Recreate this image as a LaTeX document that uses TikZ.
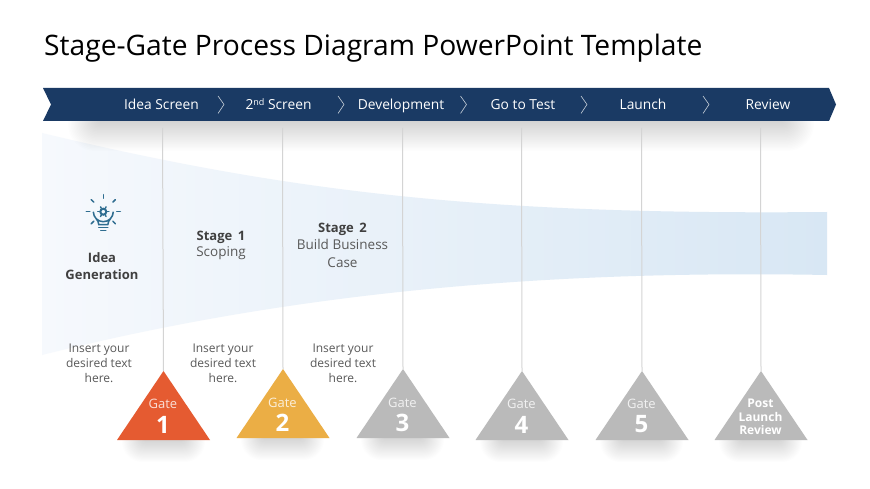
\documentclass[tikz,border=0pt]{standalone}
\usepackage{fontspec}
\setmainfont{Open Sans}
\usetikzlibrary{shapes.geometric,calc}
\definecolor{navy}{HTML}{1A3A64}
\definecolor{bodygray}{HTML}{595959}
\definecolor{headgray}{HTML}{404040}
\definecolor{gateorange}{HTML}{E55B31}
\definecolor{gateyellow}{HTML}{EBAE45}
\definecolor{gategray}{HTML}{BABABA}
\definecolor{stemgray}{HTML}{D4D4D4}
\definecolor{iconblue}{HTML}{2F6D90}
\tikzset{
  x=1pt,y=-1pt,
  stage/.style={text=white,font=\fontsize{13.8}{16}\selectfont,inner sep=0,anchor=base},
  chev/.style={draw=white!75!navy,line width=0.6pt},
  stem/.style={draw=stemgray,line width=1pt},
  tri/.style={isosceles triangle,isosceles triangle stretches,shape border rotate=90,
     minimum width=93pt,minimum height=69pt,inner sep=0,outer sep=0,anchor=apex,draw=none},
  gatelbl/.style={text=white,text opacity=.8,font=\fontsize{13}{15}\selectfont,inner sep=0},
  gatenum/.style={text=white,font=\fontsize{24}{26}\selectfont\bfseries,inner sep=0},
  body/.style={text=bodygray,font=\fontsize{12}{15}\selectfont,align=center,inner sep=0},
  heading/.style={text=headgray,font=\fontsize{13}{17}\selectfont\bfseries,align=center,inner sep=0},
  sub/.style={text=bodygray,font=\fontsize{13.5}{18}\selectfont,align=center,inner sep=0},
  icon/.style={draw=iconblue,line width=1.5pt,line cap=round},
}
% soft shadow, blurred box clipped at its top edge: x1 x2 y1 y2 blur opacity
\newcommand{\softshadow}[6]{%
  \begin{scope}
    \clip (#1-#5,#3) rectangle (#2+#5,#4+#5);
    \foreach \i in {0,1,...,23}{%
      \pgfmathsetmacro{\ins}{\i*2*#5/23}%
      \fill[black,opacity=#6,rounded corners={(2*#5-\ins)*0.8+1pt}]
        ({#1-#5+\ins},{#3-2*#5}) rectangle ({#2+#5-\ins},{#4+#5-\ins});
    }%
  \end{scope}%
}
\begin{document}
\begin{tikzpicture}
\useasboundingbox (0,0) rectangle (870,489);
\fill[white] (0,0) rectangle (870,489);
% funnel
\shade[left color={rgb,255:red,246;green,249;blue,253},right color={rgb,255:red,216;green,231;blue,244}]
  (42,133) .. controls (300,195) and (500,215) .. (827,212)
  -- (827,275) .. controls (560,270) and (300,290) .. (42,355) -- cycle;
% banner shadow
\softshadow{84}{798}{121}{135}{16}{0.0075}
% banner
\fill[navy] (43,88) -- (829,88) -- (836,104.5) -- (829,121) -- (43,121) -- (51,104.5) -- cycle;
\node[stage] (s1) at (161.5,109.5) {Idea Screen};
\node[stage] (s2) at (278.5,109.5) {2\raisebox{.55ex}{\fontsize{9}{9}\selectfont nd} Screen};
\node[stage] (s3) at (401,109.5) {Development};
\node[stage] (s4) at (523,109.5) {Go to Test};
\node[stage] (s5) at (643,109.5) {Launch};
\node[stage] (s6) at (768,109.5) {Review};
\foreach \x in {218,338,460.5,581,703}{
  \draw[chev] (\x,96) -- (\x+6,104.5) -- (\x,113.5);
}
% triangle shadows
\softshadow{134}{193}{440}{450}{12}{0.0075}
\softshadow{253}{312}{438}{448}{12}{0.0075}
\softshadow{373}{432}{438}{448}{12}{0.0075}
\softshadow{492}{551}{440}{450}{12}{0.0075}
\softshadow{612}{671}{440}{450}{12}{0.0075}
\softshadow{731}{790}{440}{450}{12}{0.0075}
% gates
\node[tri,fill=gateorange] (g1) at (163.5,371) {};
\node[tri,fill=gateyellow] (g2) at (283,369) {};
\node[tri,fill=gategray] (g3) at (403,369) {};
\node[tri,fill=gategray] (g4) at (522,371) {};
\node[tri,fill=gategray] (g5) at (642,371) {};
\node[tri,fill=gategray] (g6) at (761,371) {};
% stems
\coordinate (t1) at (162.5,128); \coordinate (t2) at (282.5,128);
\coordinate (t3) at (402.5,128); \coordinate (t4) at (521.5,128);
\coordinate (t5) at (641.5,128); \coordinate (t6) at (760.5,128);
\foreach \k in {1,...,6}{ \draw[stem] (t\k) -- (g\k.apex); }
% gate labels
\node[gatelbl] (l1) at (163,404) {Gate};
\node[gatenum] (n1) at (163,424.5) {1};
\node[gatelbl] (l2) at (282.5,402.5) {Gate};
\node[gatenum] (n2) at (282.5,423) {2};
\node[gatelbl] (l3) at (402.5,402.5) {Gate};
\node[gatenum] (n3) at (402.5,423) {3};
\node[gatelbl] (l4) at (521.5,404) {Gate};
\node[gatenum] (n4) at (521.5,424.5) {4};
\node[gatelbl] (l5) at (641.5,404) {Gate};
\node[gatenum] (n5) at (641.5,424.5) {5};
\node[text=white,font=\fontsize{12}{13.5}\selectfont\bfseries,align=center,inner sep=0] (n6) at (760.5,417) {Post\\Launch\\Review};
% body text
\node[body] (b1) at (99,363) {Insert your\\desired text\\here.};
\node[body] (b2) at (223,363) {Insert your\\desired text\\here.};
\node[body] (b3) at (343,363) {Insert your\\desired text\\here.};
\node[heading] (h0) at (102,266) {Idea\\Generation};
\node[heading] (h1) at (221,237) {Stage\, 1};
\node[sub] (h1s) at (221,253) {Scoping};
\node[heading] (h2) at (342.5,229) {Stage\, 2};
\node[sub] (h2s) at (342.5,253) {Build Business\\Case};
% title
\node[anchor=base west,text=black,font=\fontsize{28.2}{30}\selectfont,inner sep=0] (title) at (44,56) {Stage-Gate Process Diagram PowerPoint Template};
% bulb icon
\begin{scope}[shift={(103.3,211.7)}]
  \draw[icon] (-4.5,13) .. controls (-4.5,8) and (-10,6) .. (-10,0)
     arc[start angle=180,end angle=0,radius=10] .. controls (10,6) and (4.5,8) .. (4.5,13) -- cycle;
  \draw[icon,line width=2pt] (0,0) circle (3);
  \foreach \a in {0,60,...,300}{ \draw[icon,line width=1.4pt] (\a:4) -- (\a:5.6); }
  \draw[icon] (-4.5,16) -- (4.5,16);
  \draw[icon] (-2.5,19) -- (2.5,19);
  \foreach \a in {0,45,135,180,225,270,315}{ \draw[icon] (\a:13.5) -- (\a:17); }
\end{scope}
\end{tikzpicture}
\end{document}
